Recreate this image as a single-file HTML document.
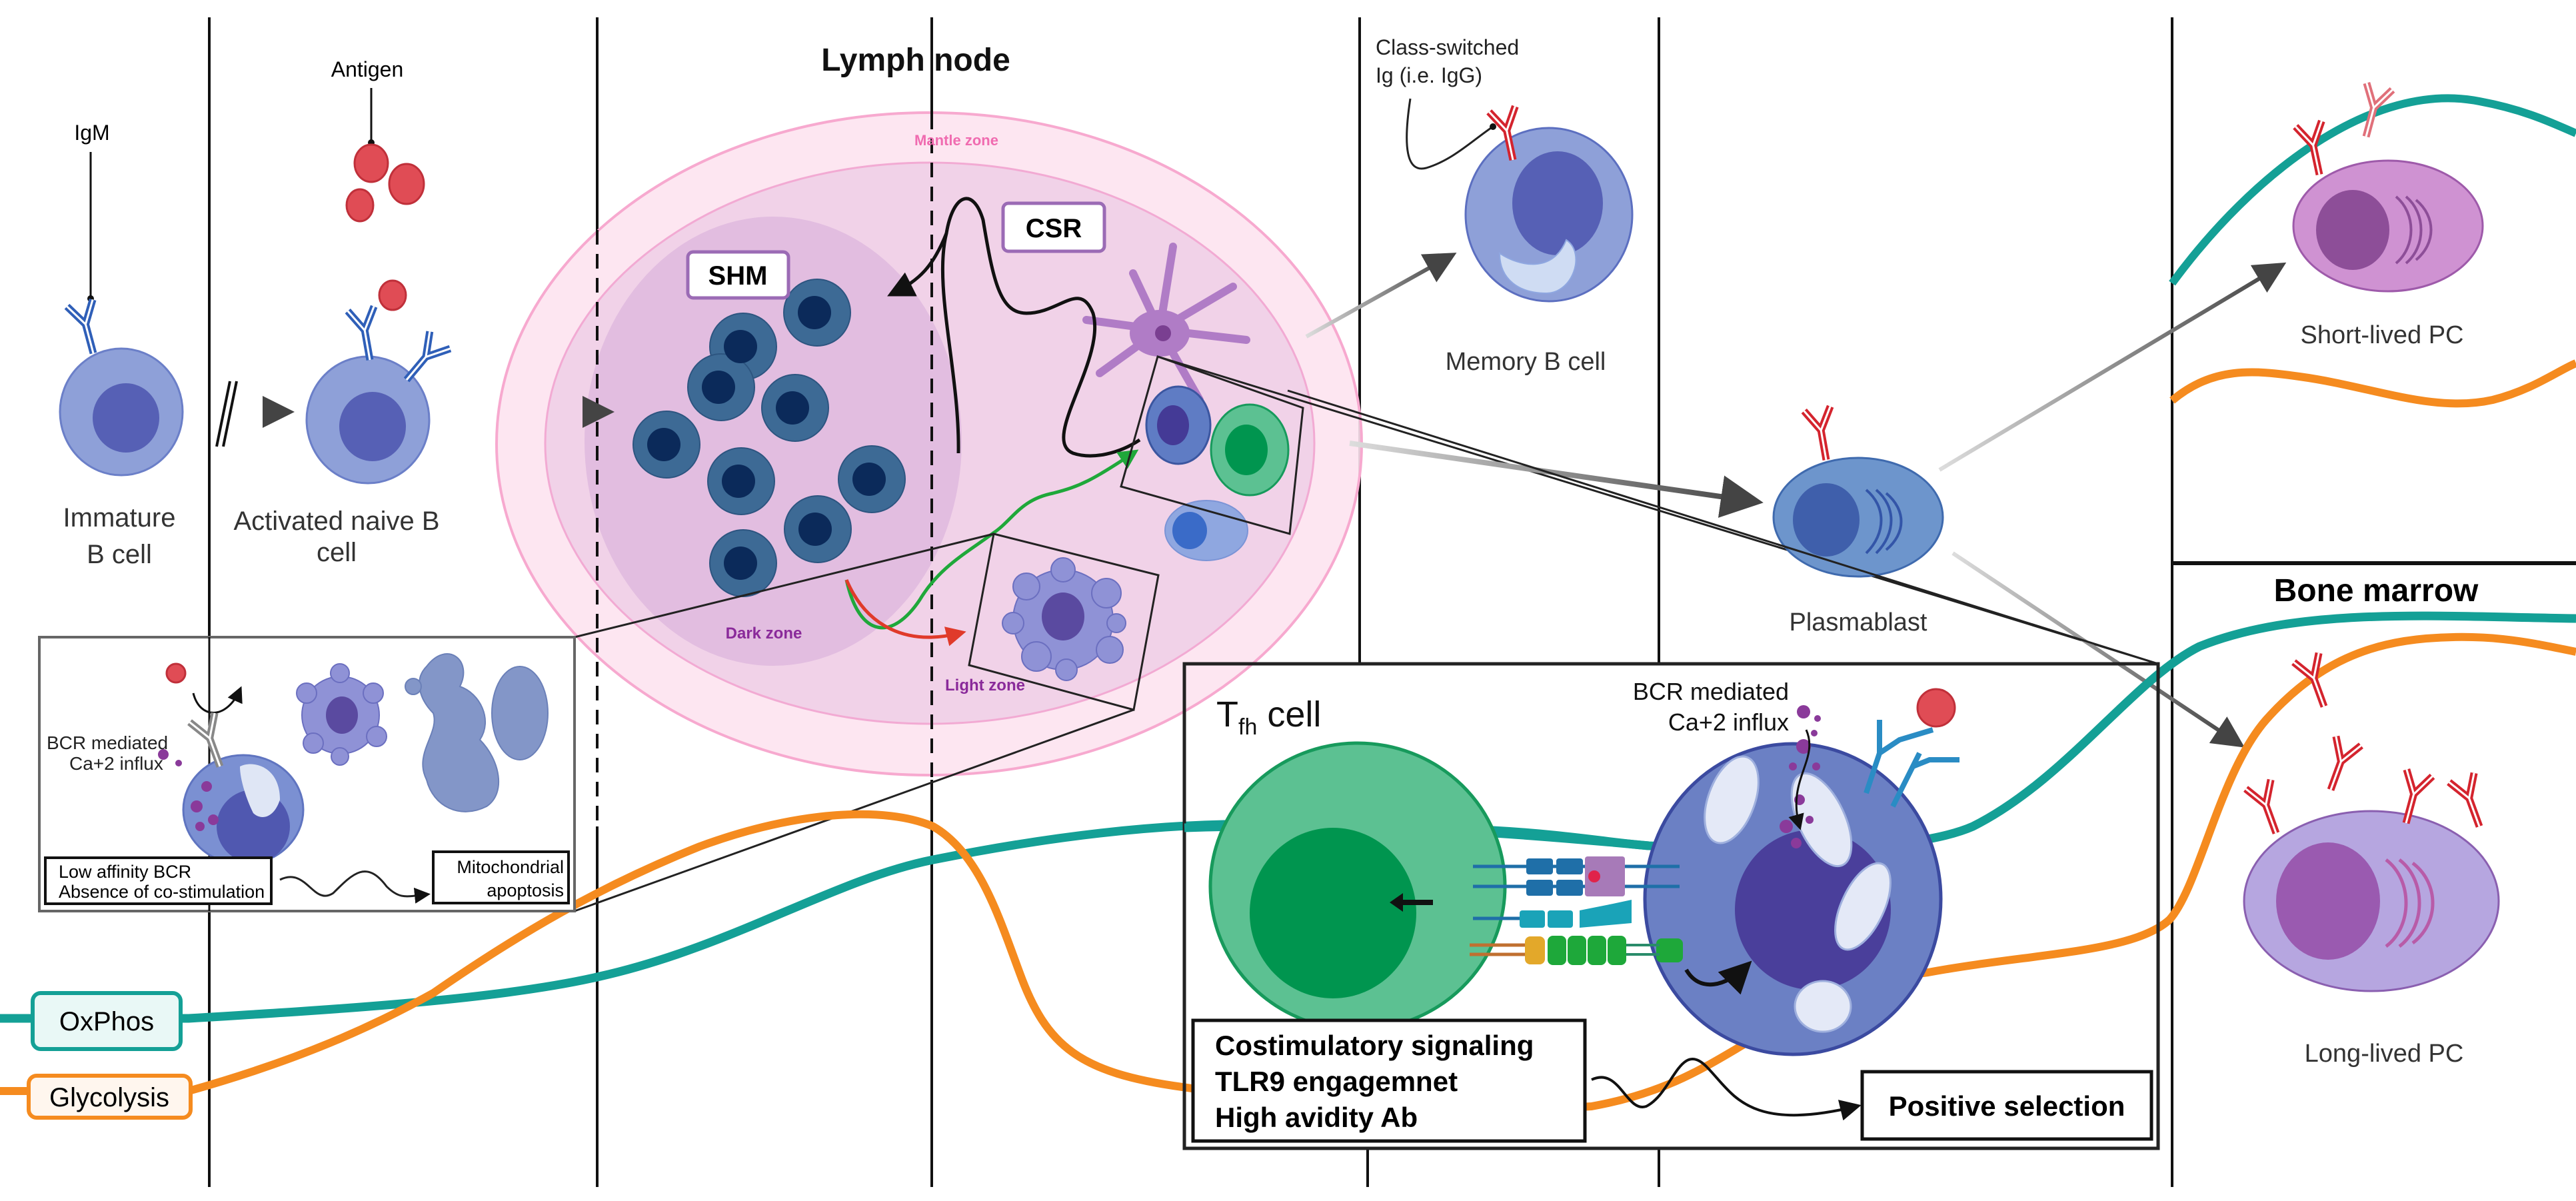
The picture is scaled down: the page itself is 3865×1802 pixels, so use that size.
<!DOCTYPE html>
<html><head><meta charset="utf-8"><style>
html,body{margin:0;padding:0;background:#fff;}
svg{display:block;}
text{font-family:"Liberation Sans",sans-serif;}
</style></head><body>
<svg width="3865" height="1802" viewBox="0 0 3865 1802" xmlns="http://www.w3.org/2000/svg">
<defs>
<symbol id="ab" overflow="visible">
 <path d="M0,0 L0,-45 L-20,-78 M0,-45 L20,-78" fill="none" stroke="currentColor" stroke-width="11"/>
 <path d="M0,0 L0,-45 L-20,-78 M0,-45 L20,-78" fill="none" stroke="#fff" stroke-width="3"/>
</symbol>
<marker id="ah" markerWidth="8" markerHeight="8" refX="6" refY="4" orient="auto" markerUnits="strokeWidth"><path d="M0,0 L8,4 L0,8 z" fill="#444"/></marker>
<marker id="ahk" markerWidth="8" markerHeight="8" refX="6" refY="4" orient="auto" markerUnits="strokeWidth"><path d="M0,0 L8,4 L0,8 z" fill="#111"/></marker>
<marker id="ahg" markerWidth="6" markerHeight="6" refX="4" refY="3" orient="auto" markerUnits="strokeWidth"><path d="M0,0 L6,3 L0,6 z" fill="#1fa83a"/></marker>
<marker id="ahr" markerWidth="6" markerHeight="6" refX="4" refY="3" orient="auto" markerUnits="strokeWidth"><path d="M0,0 L6,3 L0,6 z" fill="#e03a2a"/></marker>
<linearGradient id="g1" x1="0" x2="1"><stop offset="0" stop-color="#ddd"/><stop offset="1" stop-color="#444"/></linearGradient>
</defs>

<!-- vertical lines -->
<g stroke="#111" stroke-width="4">
 <line x1="314" y1="26" x2="314" y2="1781"/>
 <line x1="896" y1="26" x2="896" y2="345"/>
 <line x1="896" y1="345" x2="896" y2="1240" stroke-dasharray="22,14"/>
 <line x1="896" y1="1240" x2="896" y2="1781"/>
 <line x1="1398" y1="26" x2="1398" y2="172"/>
 <line x1="1398" y1="172" x2="1398" y2="1170" stroke-dasharray="22,14"/>
 <line x1="1398" y1="1170" x2="1398" y2="1781"/>
 <line x1="2040" y1="26" x2="2040" y2="996"/>
 <line x1="2052" y1="1723" x2="2052" y2="1781"/>
 <line x1="2489" y1="26" x2="2489" y2="996"/>
 <line x1="2489" y1="1723" x2="2489" y2="1781"/>
 <line x1="3259" y1="26" x2="3259" y2="1781"/>
 <line x1="3259" y1="845" x2="3865" y2="845" stroke-width="6"/>
</g>

<!-- lymph node -->
<ellipse cx="1394" cy="666" rx="649" ry="497" fill="#fde3f0" stroke="#f7a9cf" stroke-width="4" fill-opacity="0.9"/>
<ellipse cx="1395" cy="665" rx="577" ry="421" fill="#f0cfe7" stroke="#f2aad3" stroke-width="3" fill-opacity="0.9"/>
<clipPath id="cp"><ellipse cx="1395" cy="665" rx="577" ry="421"/></clipPath>
<ellipse cx="1160" cy="662" rx="283" ry="337" fill="#e2bde0" clip-path="url(#cp)"/>
<g stroke="#111" stroke-width="4">
 <line x1="896" y1="345" x2="896" y2="1160" stroke-dasharray="22,14"/>
 <line x1="1398" y1="172" x2="1398" y2="1170" stroke-dasharray="22,14"/>
</g>
<text x="1435" y="218" font-size="22" fill="#f06bb0" text-anchor="middle" font-weight="bold">Mantle zone</text>
<text x="1146" y="958" font-size="24" fill="#8a2a9a" text-anchor="middle" font-weight="bold">Dark zone</text>
<text x="1478" y="1036" font-size="24" fill="#8a2a9a" text-anchor="middle" font-weight="bold">Light zone</text>
<text x="1374" y="106" font-size="48" font-weight="bold" text-anchor="middle" fill="#111">Lymph node</text>
<line x1="1398" y1="26" x2="1398" y2="172" stroke="#111" stroke-width="4"/>

<!-- dark B cells -->
<g fill="#3d6a95" stroke="#2d5580" stroke-width="2">
 <ellipse cx="1226" cy="469" rx="50" ry="50"/><ellipse cx="1115" cy="520" rx="50" ry="50"/>
 <ellipse cx="1082" cy="581" rx="50" ry="50"/><ellipse cx="1193" cy="612" rx="50" ry="50"/>
 <ellipse cx="1000" cy="667" rx="50" ry="50"/><ellipse cx="1112" cy="722" rx="50" ry="50"/>
 <ellipse cx="1308" cy="719" rx="50" ry="50"/><ellipse cx="1227" cy="794" rx="50" ry="50"/>
 <ellipse cx="1115" cy="845" rx="50" ry="50"/>
</g>
<g fill="#0b2a5a">
 <circle cx="1222" cy="469" r="25"/><circle cx="1111" cy="520" r="25"/><circle cx="1078" cy="581" r="25"/>
 <circle cx="1189" cy="612" r="25"/><circle cx="996" cy="667" r="25"/><circle cx="1108" cy="722" r="25"/>
 <circle cx="1304" cy="719" r="25"/><circle cx="1223" cy="794" r="25"/><circle cx="1111" cy="845" r="25"/>
</g>

<!-- SHM / CSR boxes -->
<rect x="1032" y="378" width="151" height="69" rx="8" fill="#fff" stroke="#9b6bb5" stroke-width="5"/>
<text x="1107" y="427" font-size="40" font-weight="bold" text-anchor="middle">SHM</text>
<rect x="1505" y="305" width="152" height="72" rx="8" fill="#fff" stroke="#9b6bb5" stroke-width="5"/>
<text x="1581" y="356" font-size="40" font-weight="bold" text-anchor="middle">CSR</text>

<!-- dendritic cell -->
<g stroke="#b07cc6" stroke-width="12" stroke-linecap="round" fill="none">
 <path d="M1740,495 L1760,370"/><path d="M1740,495 L1850,430"/><path d="M1740,495 L1870,510"/>
 <path d="M1740,495 L1630,480"/><path d="M1740,495 L1650,560"/><path d="M1740,495 L1800,600"/><path d="M1740,495 L1700,410"/>
</g>
<ellipse cx="1740" cy="500" rx="45" ry="35" fill="#b07cc6"/>
<ellipse cx="1745" cy="500" rx="12" ry="12" fill="#7a3f91"/>

<!-- CSR curve -->
<path d="M1438,680 C1440,560 1400,430 1420,350 C1430,290 1460,280 1475,330 C1490,420 1500,470 1540,470 C1590,470 1620,420 1640,470 C1660,540 1560,660 1610,680 C1640,690 1680,680 1710,660" fill="none" stroke="#111" stroke-width="5"/>
<path d="M1420,350 C1400,400 1380,420 1340,440" fill="none" stroke="#111" stroke-width="5" marker-end="url(#ahk)"/>

<!-- green and red arrows -->
<path d="M1270,870 C1290,960 1340,960 1380,900 C1410,850 1450,830 1490,800 C1520,780 1530,750 1580,740 C1620,730 1640,720 1700,680" fill="none" stroke="#1fa83a" stroke-width="5" marker-end="url(#ahg)"/>
<path d="M1270,870 C1300,940 1360,970 1440,950" fill="none" stroke="#e03a2a" stroke-width="5" marker-end="url(#ahr)"/>

<!-- cells in light zone box -->
<ellipse cx="1768" cy="638" rx="48" ry="58" fill="#5f7cc4" stroke="#3b56a0" stroke-width="3"/>
<ellipse cx="1760" cy="638" rx="24" ry="30" fill="#443a96"/>
<ellipse cx="1875" cy="675" rx="58" ry="68" fill="#5cc192" stroke="#179a5c" stroke-width="3"/>
<ellipse cx="1870" cy="675" rx="32" ry="38" fill="#00954f"/>
<ellipse cx="1810" cy="796" rx="62" ry="45" fill="#8fa7e0" stroke="#7b94d6" stroke-width="2"/>
<ellipse cx="1785" cy="796" rx="26" ry="28" fill="#3a6bc8"/>

<!-- blebbing cell in small box -->
<g fill="#8f92d6" stroke="#6b6fc0" stroke-width="2">
 <circle cx="1595" cy="930" r="75"/><circle cx="1540" cy="880" r="20"/><circle cx="1555" cy="985" r="22"/>
 <circle cx="1660" cy="890" r="22"/><circle cx="1665" cy="975" r="20"/><circle cx="1595" cy="855" r="18"/>
 <circle cx="1600" cy="1005" r="16"/><circle cx="1520" cy="935" r="16"/><circle cx="1675" cy="935" r="14"/>
</g>
<ellipse cx="1595" cy="925" rx="32" ry="36" fill="#5a4aa0"/>

<!-- rotated boxes -->
<polygon points="1491,801 1738,863 1701,1065 1454,998" fill="none" stroke="#222" stroke-width="3"/>
<polygon points="1737,535 1955,612 1935,801 1682,730" fill="none" stroke="#222" stroke-width="3"/>
<line x1="862" y1="956" x2="1491" y2="801" stroke="#222" stroke-width="3"/>
<line x1="862" y1="1367" x2="1701" y2="1065" stroke="#222" stroke-width="3"/>
<line x1="1737" y1="535" x2="3238" y2="996" stroke="#222" stroke-width="3"/>
<line x1="1935" y1="801" x2="1777" y2="996" stroke="#222" stroke-width="3" opacity="0"/>

<!-- left cells -->
<text x="138" y="210" font-size="32" text-anchor="middle">IgM</text>
<line x1="136" y1="228" x2="136" y2="448" stroke="#111" stroke-width="3"/>
<circle cx="136" cy="448" r="5" fill="#111"/>
<ellipse cx="182" cy="618" rx="92" ry="95" fill="#8ea0d8" stroke="#6b7fc8" stroke-width="3"/>
<ellipse cx="189" cy="627" rx="50" ry="52" fill="#5660b5"/>
<use href="#ab" x="140" y="530" color="#2f5fb8" transform="rotate(-15 140 530)"/>
<text x="179" y="790" font-size="40" text-anchor="middle" fill="#333">Immature</text>
<text x="179" y="845" font-size="40" text-anchor="middle" fill="#333">B cell</text>

<text x="551" y="115" font-size="32" text-anchor="middle">Antigen</text>
<line x1="557" y1="132" x2="557" y2="214" stroke="#111" stroke-width="3"/>
<circle cx="557" cy="214" r="5" fill="#111"/>
<g fill="#e04c55" stroke="#c0303a" stroke-width="3">
 <ellipse cx="557" cy="245" rx="25" ry="28"/><ellipse cx="610" cy="276" rx="26" ry="30"/><ellipse cx="540" cy="308" rx="20" ry="24"/>
 <ellipse cx="589" cy="443" rx="20" ry="22"/>
</g>
<ellipse cx="552" cy="630" rx="92" ry="95" fill="#8ea0d8" stroke="#6b7fc8" stroke-width="3"/>
<ellipse cx="559" cy="640" rx="50" ry="52" fill="#5660b5"/>
<use href="#ab" x="555" y="540" color="#2f5fb8" transform="rotate(-10 555 540)"/>
<use href="#ab" x="610" y="570" color="#2f5fb8" transform="rotate(40 610 570)"/>
<text x="505" y="795" font-size="40" text-anchor="middle" fill="#333">Activated naive B</text>
<text x="505" y="842" font-size="40" text-anchor="middle" fill="#333">cell</text>

<line x1="283" y1="618" x2="430" y2="618" stroke="url(#g1)" stroke-width="6" marker-end="url(#ah)"/>
<line x1="335" y1="670" x2="355" y2="572" stroke="#111" stroke-width="4"/>
<line x1="325" y1="670" x2="345" y2="572" stroke="#111" stroke-width="4"/>
<line x1="641" y1="618" x2="910" y2="618" stroke="url(#g1)" stroke-width="6" marker-end="url(#ah)"/>

<!-- memory B cell -->
<text x="2064" y="82" font-size="32" fill="#222">Class-switched</text>
<text x="2064" y="124" font-size="32" fill="#222">Ig (i.e. IgG)</text>
<path d="M2116,148 C2105,220 2110,260 2140,252 C2180,240 2210,210 2240,190" fill="none" stroke="#222" stroke-width="3"/>
<circle cx="2240" cy="190" r="5" fill="#111"/>
<ellipse cx="2324" cy="322" rx="125" ry="130" fill="#8ea0d8" stroke="#5c6fc0" stroke-width="3"/>
<ellipse cx="2337" cy="305" rx="68" ry="78" fill="#5660b5"/>
<path d="M2250,380 C2280,400 2330,410 2350,360 C2380,380 2360,440 2320,440 C2280,440 2250,420 2250,380 Z" fill="#cfdcf3" stroke="#8fa7e0" stroke-width="2"/>
<use href="#ab" x="2270" y="240" color="#d4242e" transform="rotate(-12 2270 240)"/>
<text x="2289" y="555" font-size="38" text-anchor="middle" fill="#333">Memory B cell</text>
<line x1="1960" y1="505" x2="2175" y2="385" stroke="url(#g1)" stroke-width="6" marker-end="url(#ah)"/>

<!-- plasmablast -->
<line x1="2025" y1="665" x2="2630" y2="752" stroke="url(#g1)" stroke-width="8" marker-end="url(#ah)"/>
<ellipse cx="2788" cy="776" rx="127" ry="89" fill="#6d95cc" stroke="#3f6aae" stroke-width="3"/>
<ellipse cx="2740" cy="780" rx="50" ry="55" fill="#3f5fab"/>
<g fill="none" stroke="#3355a8" stroke-width="4">
 <path d="M2800,735 C2830,760 2830,800 2800,830"/><path d="M2815,735 C2845,760 2845,800 2815,830"/><path d="M2830,740 C2860,765 2860,800 2830,825"/>
</g>
<use href="#ab" x="2740" y="690" color="#d4242e" transform="rotate(-10 2740 690)"/>
<text x="2788" y="946" font-size="38" text-anchor="middle" fill="#333">Plasmablast</text>
<line x1="2910" y1="705" x2="3420" y2="400" stroke="url(#g1)" stroke-width="6" marker-end="url(#ah)"/>
<line x1="2930" y1="830" x2="3358" y2="1115" stroke="url(#g1)" stroke-width="6" marker-end="url(#ah)"/>
<line x1="1932" y1="586" x2="3238" y2="996" stroke="#222" stroke-width="3"/>

<!-- right curves top -->
<path d="M3259,425 C3380,260 3560,120 3720,152 C3790,165 3830,185 3865,200" fill="none" stroke="#14a096" stroke-width="12"/>
<path d="M3259,601 C3320,550 3380,555 3450,565 C3560,580 3650,620 3740,600 C3800,585 3840,555 3865,545" fill="none" stroke="#f58b1f" stroke-width="12"/>

<!-- short-lived PC -->
<ellipse cx="3583" cy="339" rx="142" ry="98" fill="#cf92d2" stroke="#9e5aaa" stroke-width="3"/>
<ellipse cx="3530" cy="345" rx="55" ry="60" fill="#8d4e98"/>
<g fill="none" stroke="#8d4e98" stroke-width="4">
 <path d="M3595,295 C3625,320 3625,370 3595,395"/><path d="M3610,295 C3640,320 3640,370 3610,395"/><path d="M3625,300 C3655,325 3655,365 3625,390"/>
</g>
<use href="#ab" x="3480" y="262" color="#d4242e" transform="rotate(-12 3480 262)"/>
<use href="#ab" x="3550" y="205" color="#e0707a" transform="rotate(15 3550 205)"/>
<text x="3574" y="515" font-size="38" text-anchor="middle" fill="#333">Short-lived PC</text>

<text x="3565" y="902" font-size="48" font-weight="bold" text-anchor="middle">Bone marrow</text>

<!-- lower curves -->
<path d="M0,1528 L283,1528 C500,1515 750,1500 900,1465 C1100,1420 1250,1320 1400,1290 C1550,1260 1700,1240 1836,1237 C2000,1235 2200,1243 2474,1269 C2700,1280 2880,1275 2960,1240 C3100,1170 3200,1020 3300,970 C3450,910 3650,925 3865,928" fill="none" stroke="#14a096" stroke-width="13"/>
<path d="M0,1637 L283,1637 C450,1590 560,1540 650,1490 C780,1400 900,1330 1050,1270 C1200,1215 1330,1210 1400,1240 C1470,1280 1500,1380 1530,1460 C1570,1570 1620,1610 1774,1631 C1900,1650 2200,1670 2388,1660 C2500,1640 2560,1600 2620,1565 C2700,1510 2800,1470 2893,1459 C3050,1430 3200,1430 3255,1380 C3300,1330 3330,1160 3400,1080 C3480,990 3560,965 3640,958 C3740,950 3800,965 3865,978" fill="none" stroke="#f58b1f" stroke-width="12"/>

<rect x="49" y="1490" width="222" height="84" rx="12" fill="#e9f8f6" stroke="#14a096" stroke-width="6"/>
<text x="160" y="1546" font-size="40" text-anchor="middle">OxPhos</text>
<rect x="43" y="1614" width="243" height="63" rx="12" fill="#fff6ee" stroke="#f58b1f" stroke-width="6"/>
<text x="164" y="1660" font-size="40" text-anchor="middle">Glycolysis</text>

<!-- inset left -->
<rect x="59" y="956" width="803" height="411" fill="#fff" stroke="#666" stroke-width="4"/>
<line x1="314" y1="956" x2="314" y2="1367" stroke="#111" stroke-width="3"/>
<circle cx="264" cy="1010" r="14" fill="#e04c55" stroke="#c0303a" stroke-width="3"/>
<path d="M290,1040 C300,1080 340,1080 360,1035" fill="none" stroke="#111" stroke-width="3" marker-end="url(#ahk)"/>
<ellipse cx="365" cy="1215" rx="90" ry="82" fill="#7b90d2" stroke="#5f74c0" stroke-width="3"/>
<ellipse cx="380" cy="1240" rx="55" ry="55" fill="#5058b0"/>
<path d="M360,1150 C380,1140 420,1150 420,1200 C410,1230 390,1230 380,1220 C370,1200 360,1170 360,1150 Z" fill="#dfe6f5"/>
<use href="#ab" x="330" y="1150" color="#888" transform="rotate(-20 330 1150)"/>
<g fill="#8a3a9a"><circle cx="245" cy="1132" r="8"/><circle cx="268" cy="1145" r="5"/><circle cx="310" cy="1180" r="8"/><circle cx="295" cy="1210" r="9"/><circle cx="320" cy="1230" r="8"/><circle cx="300" cy="1240" r="7"/></g>
<text x="70" y="1124" font-size="28" fill="#222">BCR mediated</text>
<text x="104" y="1155" font-size="28" fill="#222">Ca+2 influx</text>
<g fill="#8f92d6" stroke="#6b6fc0" stroke-width="2">
 <circle cx="511" cy="1073" r="58"/><circle cx="460" cy="1040" r="15"/><circle cx="470" cy="1115" r="15"/><circle cx="560" cy="1040" r="15"/><circle cx="565" cy="1105" r="15"/><circle cx="510" cy="1010" r="14"/><circle cx="510" cy="1135" r="13"/>
</g>
<ellipse cx="513" cy="1073" rx="24" ry="28" fill="#5a4aa0"/>
<g fill="#8396c8" stroke="#6b80b8" stroke-width="2">
 <path d="M640,1000 C670,960 710,990 690,1030 C720,1040 740,1080 720,1110 C750,1140 760,1190 730,1210 C690,1230 650,1210 640,1170 C620,1130 660,1100 650,1070 C630,1050 620,1020 640,1000 Z"/>
 <ellipse cx="780" cy="1070" rx="42" ry="70"/>
 <circle cx="620" cy="1030" r="12"/>
</g>
<rect x="68" y="1287" width="339" height="69" fill="#fff" stroke="#111" stroke-width="4"/>
<text x="88" y="1317" font-size="27">Low affinity BCR</text>
<text x="88" y="1347" font-size="27">Absence of co-stimulation</text>
<path d="M420,1320 C460,1300 470,1360 500,1340 C530,1310 550,1290 580,1330 C600,1350 610,1345 640,1342" fill="none" stroke="#222" stroke-width="3" marker-end="url(#ahk)"/>
<rect x="650" y="1278" width="203" height="77" fill="#fff" stroke="#111" stroke-width="4"/>
<text x="846" y="1310" font-size="27" text-anchor="end">Mitochondrial</text>
<text x="846" y="1345" font-size="27" text-anchor="end">apoptosis</text>

<!-- Tfh box -->
<rect x="1777" y="996" width="1461" height="727" fill="none" stroke="#222" stroke-width="5"/>
<path d="M1777,1242 C1900,1238 2050,1238 2240,1246 C2350,1252 2420,1265 2474,1269" fill="none" stroke="#14a096" stroke-width="13"/>
<text x="1825" y="1090" font-size="54" fill="#111">T<tspan font-size="34" dy="12">fh</tspan><tspan dy="-12"> cell</tspan></text>
<ellipse cx="2037" cy="1330" rx="221" ry="215" fill="#5cc192" stroke="#179a5c" stroke-width="5"/>
<ellipse cx="2000" cy="1370" rx="125" ry="128" fill="#00954f"/>
<line x1="2100" y1="1354" x2="2150" y2="1354" stroke="#111" stroke-width="8"/>
<path d="M2085,1354 L2105,1340 L2105,1368 Z" fill="#111"/>
<ellipse cx="2690" cy="1349" rx="222" ry="233" fill="#6b80c4" stroke="#3b4aa0" stroke-width="5"/>
<ellipse cx="2720" cy="1365" rx="117" ry="120" fill="#4a3f9b"/>
<g fill="#e4e9f7" stroke="#9fb0de" stroke-width="3">
 <ellipse cx="2598" cy="1200" rx="35" ry="68" transform="rotate(20 2598 1200)"/>
 <ellipse cx="2733" cy="1230" rx="35" ry="75" transform="rotate(-25 2733 1230)"/>
 <ellipse cx="2795" cy="1360" rx="32" ry="70" transform="rotate(25 2795 1360)"/>
 <ellipse cx="2735" cy="1510" rx="42" ry="38"/>
</g>
<g fill="#8a3a9a"><circle cx="2706" cy="1068" r="10"/><circle cx="2727" cy="1078" r="5"/><circle cx="2722" cy="1100" r="5"/><circle cx="2706" cy="1120" r="11"/><circle cx="2690" cy="1150" r="6"/><circle cx="2725" cy="1150" r="6"/><circle cx="2700" cy="1200" r="8"/><circle cx="2715" cy="1230" r="6"/><circle cx="2680" cy="1240" r="10"/><circle cx="2695" cy="1265" r="8"/></g>
<path d="M2710,1095 C2730,1140 2680,1170 2700,1240" fill="none" stroke="#111" stroke-width="3" marker-end="url(#ahk)"/>
<text x="2684" y="1050" font-size="36" text-anchor="end" fill="#111">BCR mediated</text>
<text x="2684" y="1096" font-size="36" text-anchor="end" fill="#111">Ca+2 influx</text>
<g fill="none" stroke="#2a8cc4" stroke-width="8">
 <path d="M2800,1190 L2820,1130 L2820,1080 M2820,1130 L2850,1110 L2900,1095"/>
 <path d="M2840,1210 L2870,1150 L2895,1140 L2940,1140 M2870,1150 L2880,1130"/>
</g>
<circle cx="2905" cy="1062" r="28" fill="#e04c55" stroke="#c0303a" stroke-width="3"/>
<!-- receptors -->
<g stroke="#1f6fa8" stroke-width="5"><line x1="2210" y1="1300" x2="2520" y2="1300"/><line x1="2210" y1="1330" x2="2520" y2="1330"/><line x1="2210" y1="1378" x2="2290" y2="1378"/></g>
<g fill="#1f6fa8"><rect x="2290" y="1288" width="40" height="24" rx="4"/><rect x="2335" y="1288" width="40" height="24" rx="4"/><rect x="2290" y="1320" width="40" height="24" rx="4"/><rect x="2335" y="1320" width="40" height="24" rx="4"/></g>
<g fill="#a77ab8"><rect x="2378" y="1285" width="60" height="60" rx="4"/></g>
<circle cx="2392" cy="1315" r="9" fill="#e0234a"/>
<g fill="#1aa3b8"><rect x="2280" y="1366" width="38" height="26" rx="4"/><rect x="2322" y="1366" width="38" height="26" rx="4"/><path d="M2370,1366 L2420,1356 L2448,1350 L2448,1385 L2370,1392 Z"/></g>
<g stroke="#c07030" stroke-width="5"><line x1="2205" y1="1418" x2="2300" y2="1418"/><line x1="2205" y1="1432" x2="2300" y2="1432"/></g>
<rect x="2288" y="1405" width="30" height="42" rx="8" fill="#e3a82a"/>
<g fill="#1ea83a"><rect x="2322" y="1404" width="28" height="44" rx="8"/><rect x="2352" y="1404" width="28" height="44" rx="8"/><rect x="2382" y="1404" width="28" height="44" rx="8"/><rect x="2412" y="1404" width="28" height="44" rx="8"/><rect x="2485" y="1408" width="40" height="36" rx="8"/></g>
<g stroke="#2a8c6a" stroke-width="4"><line x1="2440" y1="1418" x2="2490" y2="1418"/><line x1="2440" y1="1432" x2="2490" y2="1432"/></g>
<path d="M2530,1455 C2550,1490 2590,1480 2620,1450" fill="none" stroke="#111" stroke-width="6" marker-end="url(#ahk)"/>

<rect x="1790" y="1531" width="588" height="181" fill="#fff" stroke="#111" stroke-width="5"/>
<text x="1823" y="1583" font-size="42" font-weight="bold">Costimulatory signaling</text>
<text x="1823" y="1637" font-size="42" font-weight="bold">TLR9 engagemnet</text>
<text x="1823" y="1691" font-size="42" font-weight="bold">High avidity Ab</text>
<path d="M2388,1620 C2430,1600 2440,1670 2470,1660 C2510,1640 2520,1560 2560,1600 C2600,1640 2620,1700 2785,1660" fill="none" stroke="#111" stroke-width="4" marker-end="url(#ahk)"/>
<rect x="2794" y="1608" width="434" height="101" fill="#fff" stroke="#111" stroke-width="5"/>
<text x="3011" y="1674" font-size="42" font-weight="bold" text-anchor="middle">Positive selection</text>

<!-- long-lived PC -->
<ellipse cx="3558" cy="1352" rx="191" ry="135" fill="#b6a6e0" stroke="#8a5fb0" stroke-width="3"/>
<ellipse cx="3493" cy="1352" rx="78" ry="88" fill="#9a5ab0"/>
<g fill="none" stroke="#b85ba8" stroke-width="5">
 <path d="M3580,1290 C3620,1320 3620,1390 3580,1420"/><path d="M3600,1290 C3640,1320 3640,1390 3600,1420"/><path d="M3620,1295 C3660,1325 3660,1385 3620,1415"/>
</g>
<g color="#d4242e">
 <use href="#ab" x="3415" y="1250" transform="rotate(-20 3415 1250)"/>
<use href="#ab" x="3497" y="1185" transform="rotate(20 3497 1185)"/>
<use href="#ab" x="3610" y="1235" transform="rotate(15 3610 1235)"/>
<use href="#ab" x="3720" y="1240" transform="rotate(-20 3720 1240)"/>
<use href="#ab" x="3487" y="1060" transform="rotate(-20 3487 1060)"/>
</g>
<text x="3577" y="1593" font-size="38" text-anchor="middle" fill="#333">Long-lived PC</text>
</svg>
</body></html>
